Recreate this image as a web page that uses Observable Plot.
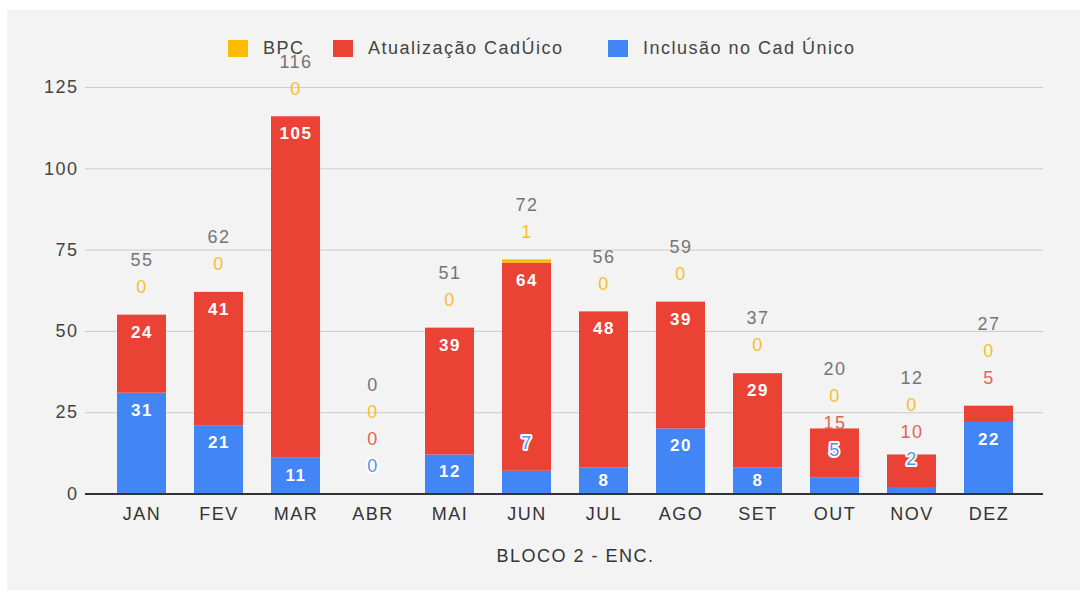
<!DOCTYPE html>
<html>
<head>
<meta charset="utf-8">
<script src="https://cdn.jsdelivr.net/npm/d3@7"></script>
<script src="https://cdn.jsdelivr.net/npm/@observablehq/plot@0.6"></script>
<style>
  body { margin: 0; background: #ffffff; font-family: "Liberation Sans", Arial, sans-serif; }
  #panel { position: absolute; left: 7px; top: 10px; width: 1073px; height: 580px; background: #f3f3f3; overflow: hidden; }
  #chart { position: absolute; left: 0; top: 0; }
  .item { position: absolute; top: 28px; height: 20px; display: flex; align-items: center; font-size: 18px; letter-spacing: 1.5px; color: #444; white-space: nowrap; }
  .sw { display: inline-block; width: 20px; height: 17px; margin-right: 15px; }
</style>
</head>
<body>
<div id="panel"><div id="chart"></div><div id="legend"></div></div>
<script>
// ---- data ----
const months = ["JAN", "FEV", "MAR", "ABR", "MAI", "JUN", "JUL", "AGO", "SET", "OUT", "NOV", "DEZ"];
const inclusao = [31, 21, 11, 0, 12, 7, 8, 20, 8, 5, 2, 22];
const atualizacao = [24, 41, 105, 0, 39, 64, 48, 39, 29, 15, 10, 5];
const bpc = [0, 0, 0, 0, 0, 1, 0, 0, 0, 0, 0, 0];
const seriesNames = ["BPC", "Atualização CadÚico", "Inclusão no Cad Único"];
const seriesColors = ["#fbbc04", "#ea4335", "#4285f4"];
const yTicks = [0, 25, 50, 75, 100, 125];
const axisTitle = "BLOCO 2 - ENC.";

// ---- layout ----
const W = 1073, H = 580, mT = 77, mB = 96.5, mL = 78, mR = 37;
const yMax = 125;
const k = (H - mT - mB) / yMax; // px per unit
const legendLeft = [221, 326, 601];

// stack order bottom -> top
const stackValues = [inclusao, atualizacao, bpc];
const stackNames = [seriesNames[2], seriesNames[1], seriesNames[0]];
const outsideColors = ["#5b8fea", "#e0645a", "#f5c02a"];

const rows = stackNames.flatMap((s, j) => months.map((m, i) => ({month: m, series: s, value: stackValues[j][i]})));

// data labels, Google-Charts style placement with collision avoidance
const labels = [];
months.forEach((m, i) => {
  let base = 0, prev = null;
  stackValues.forEach((vals, j) => {
    const v = vals[i], h = v * k, top = (base + v) * k;
    let pos = h >= 24 ? top - Math.min(17, h / 2) : top + 28;
    if (prev !== null && pos < prev + 27) pos = prev + 27;
    const inside = pos <= top - 6 && pos >= base * k + 6;
    labels.push({month: m, y: pos / k, text: String(v), kind: inside ? "in" : "out", color: outsideColors[j], halo: j === 0});
    prev = pos; base += v;
  });
  const pos = Math.max(base * k + 28, prev + 27);
  labels.push({month: m, y: pos / k, text: String(base), kind: "total"});
});

const chart = Plot.plot({
  width: W, height: H,
  marginTop: mT, marginBottom: mB, marginLeft: mL, marginRight: mR,
  style: {background: "transparent", fontFamily: '"Liberation Sans", Arial, sans-serif', fontSize: "18px", letterSpacing: "1.5px", overflow: "visible"},
  x: {domain: months, paddingInner: 0.37, paddingOuter: 0.185, insetLeft: 12.6, insetRight: 11.6},
  y: {domain: [0, yMax]},
  color: {domain: seriesNames, range: seriesColors},
  marks: [
    Plot.ruleY(yTicks.filter(t => t > 0), {stroke: "#cccccc", strokeWidth: 1}),
    Plot.barY(rows, Plot.stackY({x: "month", y: "value", fill: "series", order: stackNames})),
    Plot.ruleY([0], {stroke: "#333333", strokeWidth: 2}),
    Plot.axisY({ticks: yTicks, tickSize: 0, tickPadding: 7, fontSize: 18, color: "#444444", label: null}),
    Plot.axisX({tickSize: 0, tickPadding: 13, fontSize: 18, color: "#333333", label: null}),
    Plot.text(labels.filter(d => d.kind === "in"), {x: "month", y: "y", text: "text", fill: "white", fontWeight: "bold", fontSize: 17}),
    Plot.text(labels.filter(d => d.kind === "out" && d.halo), {x: "month", y: "y", text: "text", fill: "color", stroke: "white", strokeWidth: 4, fontSize: 18}),
    Plot.text(labels.filter(d => d.kind === "out" && !d.halo), {x: "month", y: "y", text: "text", fill: "color", fontSize: 18}),
    Plot.text(labels.filter(d => d.kind === "total"), {x: "month", y: "y", text: "text", fill: "#757575", fontSize: 18}),
    Plot.text([axisTitle], {text: d => d, frameAnchor: "bottom", dy: 67.5, dx: 11, fill: "#333333", fontSize: 18})
  ]
});
document.getElementById("chart").appendChild(chart);

// legend
const legend = document.getElementById("legend");
seriesNames.forEach((name, i) => {
  const item = document.createElement("div");
  item.className = "item";
  item.style.left = legendLeft[i] + "px";
  const sw = document.createElement("span");
  sw.className = "sw";
  sw.style.background = seriesColors[i];
  const tx = document.createElement("span");
  tx.textContent = name;
  item.appendChild(sw); item.appendChild(tx);
  legend.appendChild(item);
});
</script>
</body>
</html>
